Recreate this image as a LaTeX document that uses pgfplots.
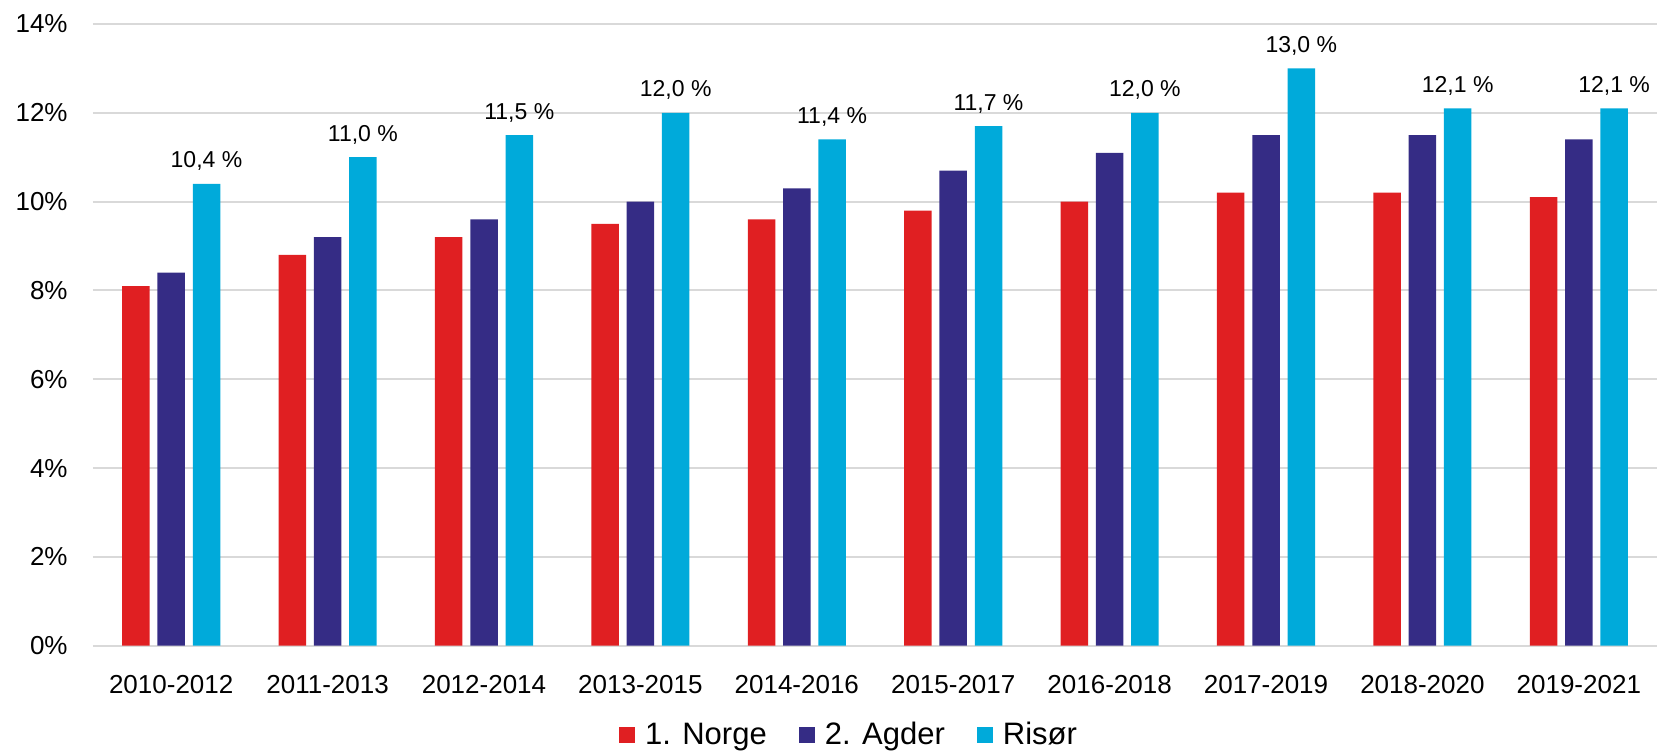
\documentclass[border=0pt]{standalone}
\usepackage{fontspec}
\setmainfont{Liberation Sans}
\usepackage{pgfplots}
\pgfplotsset{compat=1.18}
\definecolor{norge}{HTML}{E01F22}
\definecolor{agder}{HTML}{352C85}
\definecolor{risor}{HTML}{00AADA}
\definecolor{gridc}{HTML}{D9D9D9}

\begin{document}
\begin{tikzpicture}
\path[use as bounding box] (0,0) rectangle (828.5pt,375pt);
\begin{axis}[
  at={(46.5pt,52.15pt)}, anchor=south west,
  scale only axis, width=782pt, height=310.85pt,
  ybar=3.9pt, bar width=13.75pt,
  xmin=-0.5, xmax=9.5, ymin=0, ymax=14,
  xtick={0,...,9},
  xticklabels={2010-2012,2011-2013,2012-2014,2013-2015,2014-2016,2015-2017,2016-2018,2017-2019,2018-2020,2019-2021},
  ytick={0,2,...,14},
  yticklabel={\pgfmathprintnumber{\tick}\%},
  /pgf/number format/assume math mode=true,
  axis line style={draw=none}, tick style={draw=none},
  ymajorgrids, grid style={gridc, line width=1pt},
  xticklabel style={font=\fontsize{13}{15}\selectfont, anchor=base, yshift=-19.65pt},
  yticklabel style={font=\fontsize{13}{15}\selectfont, anchor=east, inner sep=0pt, xshift=-12.5pt},
  legend columns=3,
  legend style={at={(0.484,-0.1436)}, anchor=center, draw=none, fill=none,
    font=\fontsize{15.5}{18}\selectfont,
    /tikz/every odd column/.append style={column sep=3pt},
    /tikz/every even column/.append style={column sep=14pt}},
  legend image code/.code={\fill[#1] (0pt,-4pt) rectangle (8pt,4pt);},
]
\addplot[fill=norge, draw=none] coordinates {(0,8.1) (1,8.8) (2,9.2) (3,9.5) (4,9.6) (5,9.8) (6,10.0) (7,10.2) (8,10.2) (9,10.1)};
\addplot[fill=agder, draw=none] coordinates {(0,8.4) (1,9.2) (2,9.6) (3,10.0) (4,10.3) (5,10.7) (6,11.1) (7,11.5) (8,11.5) (9,11.4)};
\addplot[fill=risor, draw=none,
  nodes near coords={\pgfmathprintnumber[fixed,fixed zerofill,precision=1,use comma]{\pgfplotspointmeta}~\%},
  nodes near coords style={font=\fontsize{11.5}{14}\selectfont, anchor=base, yshift=8pt, text=black}]
  coordinates {(0,10.4) (1,11.0) (2,11.5) (3,12.0) (4,11.4) (5,11.7) (6,12.0) (7,13.0) (8,12.1) (9,12.1)};
\legend{1. Norge, 2. Agder, Risør}
\end{axis}
\end{tikzpicture}
\end{document}
